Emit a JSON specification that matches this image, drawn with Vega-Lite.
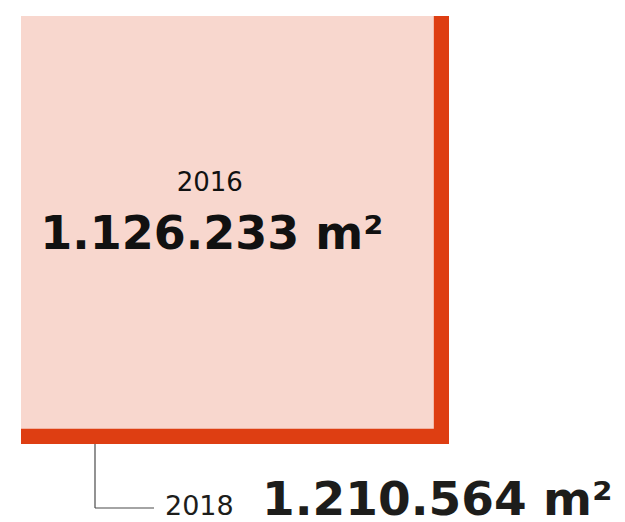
{
  "$schema": "https://vega.github.io/schema/vega-lite/v6.json",
  "width": 625,
  "height": 522,
  "autosize": "none",
  "padding": 0,
  "background": "#ffffff",
  "config": {"view": {"stroke": null}},
  "data": {
    "values": [
      {"year": "2018", "value": 1210564, "label": "1.210.564 m²"},
      {"year": "2016", "value": 1126233, "label": "1.126.233 m²"}
    ]
  },
  "encoding": {
    "x": {"field": "value", "type": "quantitative", "scale": {"type": "sqrt", "domain": [0, 1210564], "range": [21, 449]}, "axis": null},
    "y": {"field": "value", "type": "quantitative", "scale": {"type": "sqrt", "domain": [0, 1210564], "range": [16, 444]}, "axis": null}
  },
  "layer": [
    {
      "mark": {"type": "rect"},
      "encoding": {
        "x2": {"datum": 0},
        "y2": {"datum": 0},
        "color": {"field": "year", "type": "nominal", "scale": {"domain": ["2018", "2016"], "range": ["#DE3E12", "#F8D7CE"]}, "legend": null}
      }
    },
    {
      "transform": [{"filter": "datum.year == '2016'"}],
      "mark": {"type": "text", "align": "center", "baseline": "alphabetic", "dx": -224, "dy": -238, "font": "DejaVu Sans", "fontSize": 26, "color": "#111111"},
      "encoding": {"text": {"field": "year"}}
    },
    {
      "transform": [{"filter": "datum.year == '2016'"}],
      "mark": {"type": "text", "align": "center", "baseline": "alphabetic", "dx": -222, "dy": -180, "font": "DejaVu Sans", "fontWeight": "bold", "fontSize": 46, "color": "#111111"},
      "encoding": {"text": {"field": "label"}}
    },
    {
      "transform": [{"filter": "datum.year == '2018'"}],
      "mark": {"type": "rule", "color": "#4a4a4a", "strokeWidth": 1.2, "xOffset": -354, "y2Offset": 64},
      "encoding": {"y2": {"field": "value"}}
    },
    {
      "transform": [{"filter": "datum.year == '2018'"}],
      "mark": {"type": "rule", "color": "#4a4a4a", "strokeWidth": 1.2, "xOffset": -354, "x2Offset": -295, "yOffset": 64},
      "encoding": {"x2": {"field": "value"}}
    },
    {
      "transform": [{"filter": "datum.year == '2018'"}],
      "mark": {"type": "text", "align": "left", "baseline": "alphabetic", "dx": -284, "dy": 71, "font": "DejaVu Sans", "fontSize": 27, "color": "#1d1d1b"},
      "encoding": {"text": {"field": "year"}}
    },
    {
      "transform": [{"filter": "datum.year == '2018'"}],
      "mark": {"type": "text", "align": "left", "baseline": "alphabetic", "dx": -187, "dy": 71, "font": "DejaVu Sans", "fontWeight": "bold", "fontSize": 47, "color": "#1d1d1b"},
      "encoding": {"text": {"field": "label"}}
    }
  ]
}
